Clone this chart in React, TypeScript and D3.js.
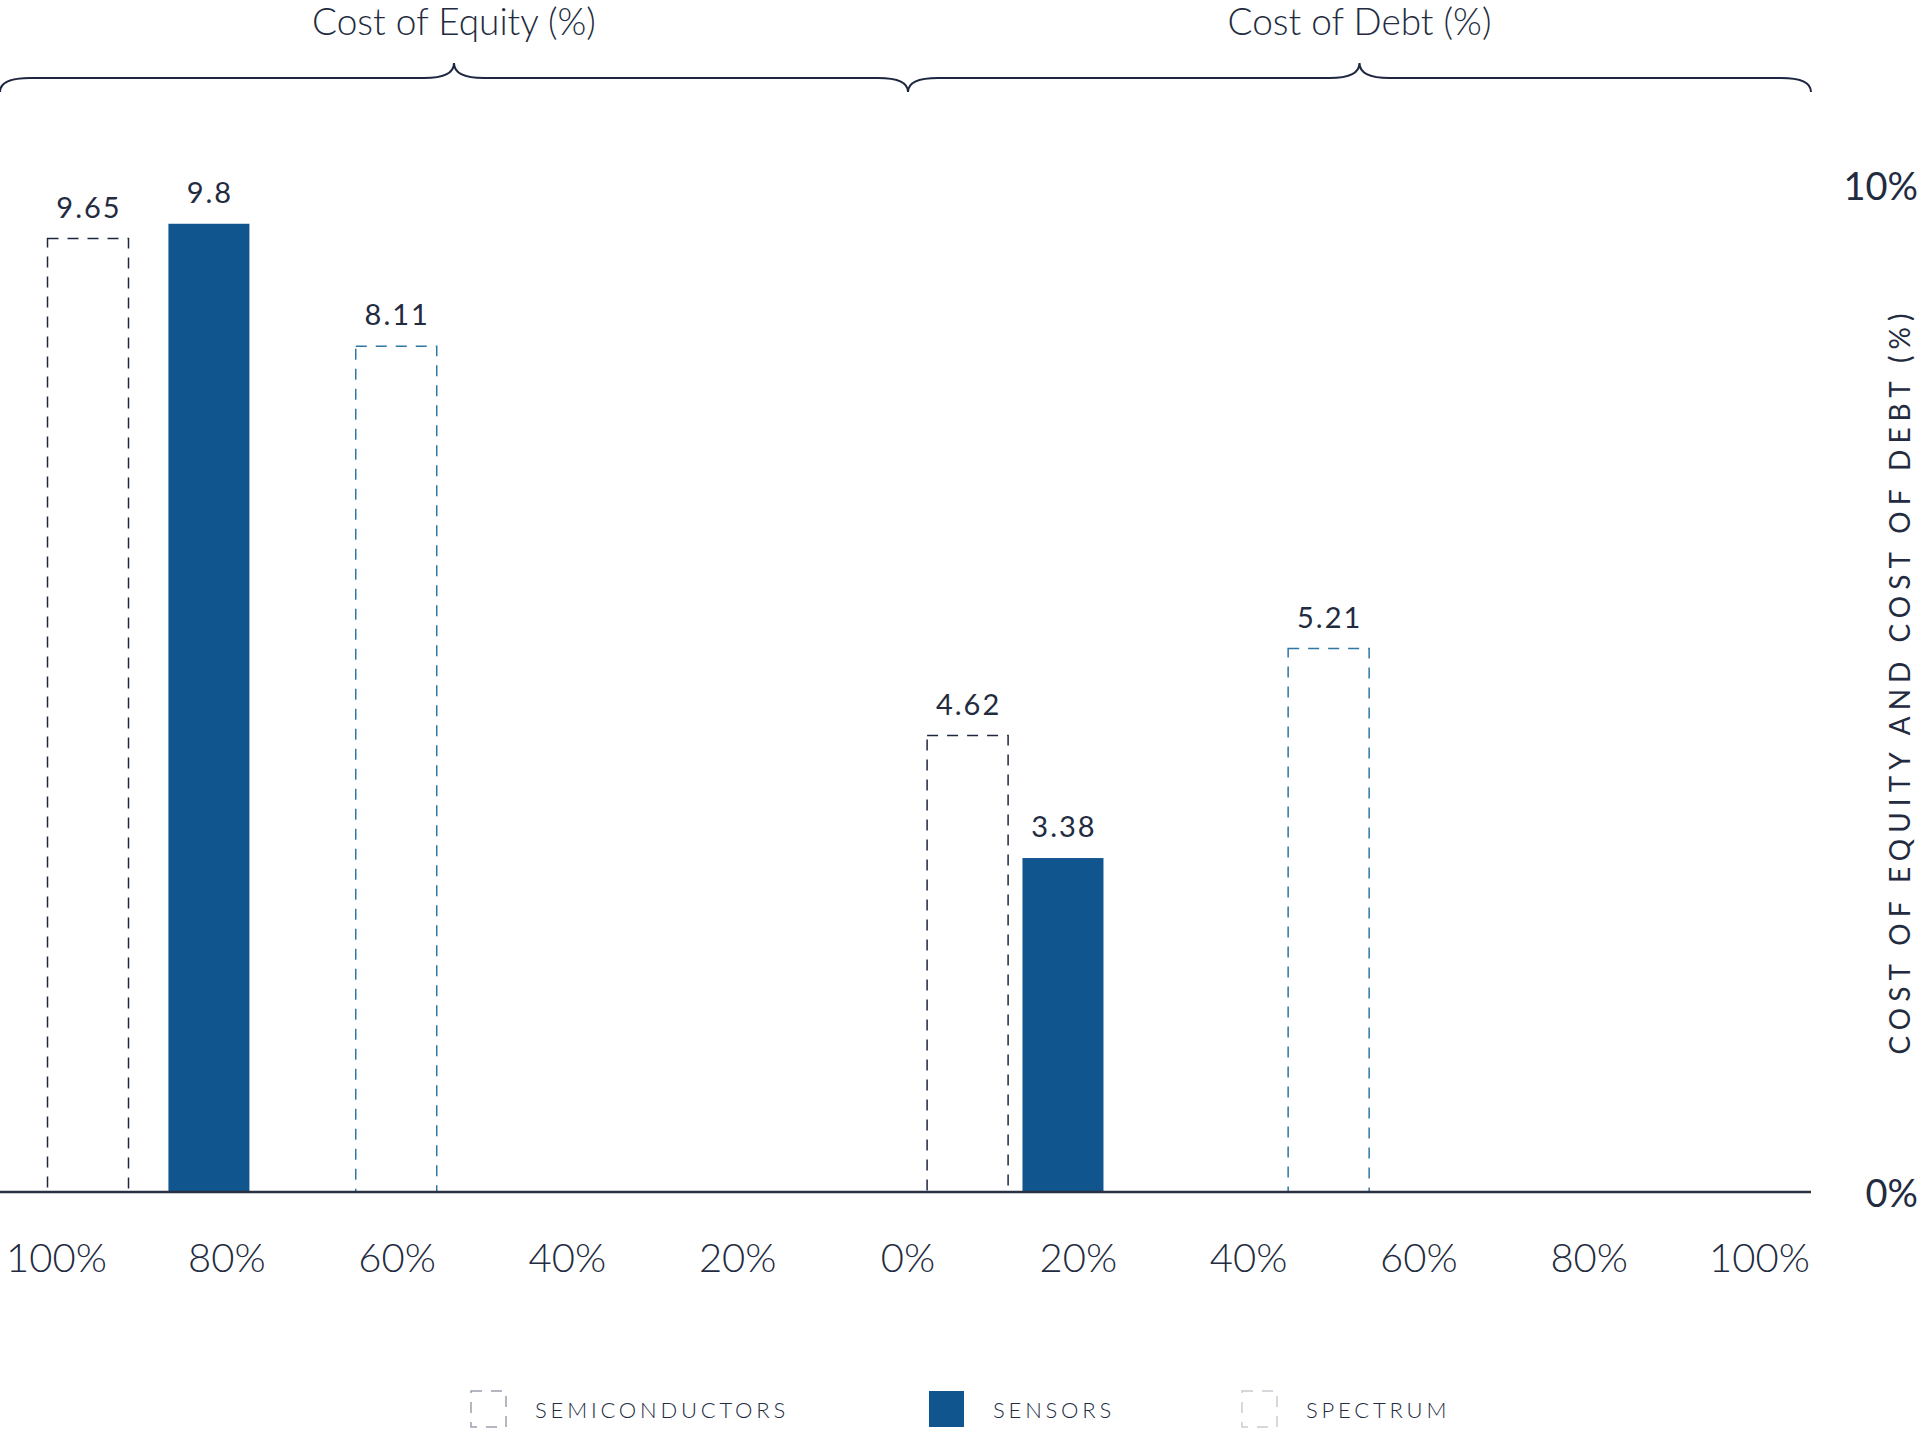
import React from "react";
import * as d3 from "d3";

// ---- data ----
const categories = ["Semiconductors", "Sensors", "Spectrum"];
const costOfEquity = [9.65, 9.8, 8.11];
const costOfDebt = [4.62, 3.38, 5.21];
const equityShare = [96.3, 82.1, 60.1];
const debtShare = [7.0, 18.2, 49.4];
const equityTicks = [100, 80, 60, 40, 20, 0];
const debtTicks = [20, 40, 60, 80, 100];
const yTicks = [0, 10];
const groupTitles = ["Cost of Equity (%)", "Cost of Debt (%)"];
const yTitle = "COST OF EQUITY AND COST OF DEBT (%)";

// ---- styles ----
const W = 1920;
const H = 1439;
const FONT = "Lato, 'Noto Sans', sans-serif";
const TEXT = "#232b40";
const NAVY = "#1e2640";
const BLUE = "#11558e";
const STEEL = "#2f76a2";

type Style = { kind: "dash" | "fill"; color: string; scale: "main" | "alt" };
const seriesStyle: Style[] = [
  { kind: "dash", color: NAVY, scale: "main" },
  { kind: "fill", color: BLUE, scale: "main" },
  { kind: "dash", color: STEEL, scale: "alt" },
];

export default function App() {
  const axisLeft = 0;
  const axisRight = 1811;
  const mid = 908;
  const baseY = 1192;
  const xEq = d3.scaleLinear().domain([100, 0]).range([56.5, mid]);
  const xDebt = d3.scaleLinear().domain([0, 100]).range([mid, 1759.5]);
  // axis scale drawn at right, and per-layer bar scales (independent in the source)
  const yAxis = d3.scaleLinear().domain([0, 10]).range([baseY, 185]);
  const yMain = d3.scaleLinear().domain([0, 10]).range([baseY, 204]);
  const yAlt = d3.scaleLinear().domain([0, 10]).range([baseY, 149]);
  const barW = 81;

  const brace = (x0: number, x1: number) => {
    const apex = (x0 + x1) / 2;
    const yl = 78;
    const ye = 92;
    const ya = 63;
    const r = 30;
    const p = d3.path();
    p.moveTo(x0, ye);
    p.quadraticCurveTo(x0, yl, x0 + r, yl);
    p.lineTo(apex - r, yl);
    p.quadraticCurveTo(apex, yl, apex, ya);
    p.quadraticCurveTo(apex, yl, apex + r, yl);
    p.lineTo(x1 - r, yl);
    p.quadraticCurveTo(x1, yl, x1, ye);
    return p.toString();
  };

  const bars: { x: number; v: number; s: number }[] = [];
  categories.forEach((_, i) => {
    bars.push({ x: xEq(equityShare[i]), v: costOfEquity[i], s: i });
    bars.push({ x: xDebt(debtShare[i]), v: costOfDebt[i], s: i });
  });

  const legendX = [471, 929, 1242];

  return (
    <svg
      width={W}
      height={H}
      style={{ position: "absolute", left: 0, top: 0, background: "#fff" }}
      fontFamily={FONT}
    >
      {/* group titles and braces */}
      {[
        [axisLeft, mid],
        [mid, axisRight],
      ].map(([a, b], i) => (
        <g key={"g" + i}>
          <text
            x={(a + b) / 2}
            y={35}
            textAnchor="middle"
            fontSize={37}
            fontWeight={300}
            fill={TEXT}
          >
            {groupTitles[i]}
          </text>
          <path d={brace(a, b)} fill="none" stroke={NAVY} strokeWidth={2} />
        </g>
      ))}

      {/* bars */}
      {bars.map((d, i) => {
        const st = seriesStyle[d.s];
        const y = st.scale === "main" ? yMain : yAlt;
        const top = y(d.v);
        const h = y(0) - top;
        return (
          <g key={"b" + i}>
            {st.kind === "fill" ? (
              <rect x={d.x - barW / 2} y={top} width={barW} height={h} fill={st.color} />
            ) : (
              <rect
                x={d.x - barW / 2}
                y={top}
                width={barW}
                height={h}
                fill="none"
                stroke={st.color}
                strokeWidth={1.5}
                strokeDasharray="11 9"
              />
            )}
            <text
              x={d.x + 1}
              y={top - 21}
              textAnchor="middle"
              fontSize={29}
              fill={TEXT}
              letterSpacing={2}
            >
              {d.v}
            </text>
          </g>
        );
      })}

      {/* x axis line */}
      <line x1={axisLeft} x2={axisRight} y1={baseY} y2={baseY} stroke="#2a3042" strokeWidth={2.5} />

      {/* x tick labels */}
      {equityTicks.map((t) => (
        <text
          key={"e" + t}
          x={xEq(t)}
          y={1257}
          textAnchor="middle"
          dominantBaseline="central"
          fontSize={40}
          fontWeight={300}
          fill={TEXT}
        >
          {t}%
        </text>
      ))}
      {debtTicks.map((t) => (
        <text
          key={"d" + t}
          x={xDebt(t)}
          y={1257}
          textAnchor="middle"
          dominantBaseline="central"
          fontSize={40}
          fontWeight={300}
          fill={TEXT}
        >
          {t}%
        </text>
      ))}

      {/* right y axis */}
      {yTicks.map((t) => (
        <text
          key={"y" + t}
          x={1918}
          y={yAxis(t)}
          textAnchor="end"
          dominantBaseline="central"
          fontSize={38}
          fill={TEXT}
        >
          {t}%
        </text>
      ))}
      <text
        transform="translate(1899,681) rotate(-90)"
        textAnchor="middle"
        dominantBaseline="central"
        fontSize={28}
        letterSpacing={6}
        fill={TEXT}
      >
        {yTitle}
      </text>

      {/* legend */}
      {categories.map((c, i) => {
        const st = seriesStyle[i];
        const lx = legendX[i];
        return (
          <g key={"l" + i}>
            {st.kind === "fill" ? (
              <rect x={lx} y={1391} width={35} height={36} fill={st.color} />
            ) : (
              <rect
                x={lx}
                y={1391}
                width={35}
                height={36}
                fill="none"
                stroke={i === 0 ? "#9aa0ab" : "#c9ccd2"}
                strokeWidth={1.5}
                strokeDasharray="11 9"
              />
            )}
            <text
              x={lx + 64}
              y={1409}
              dominantBaseline="central"
              fontSize={22}
              fontWeight={300}
              letterSpacing={3.8}
              fill={TEXT}
            >
              {c.toUpperCase()}
            </text>
          </g>
        );
      })}
    </svg>
  );
}
